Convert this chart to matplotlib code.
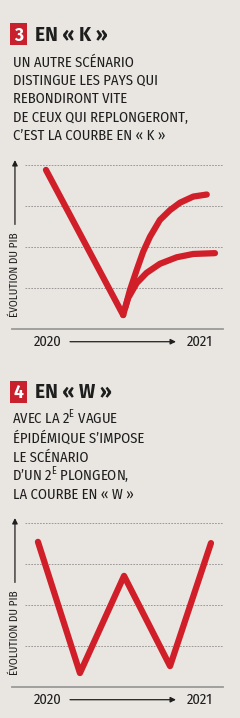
import matplotlib
matplotlib.use('Agg')
import matplotlib.pyplot as plt
from matplotlib.patches import Rectangle

# Pixel-based layout on a 240x718 canvas
W_PX, H_PX = 240, 718
BG = '#e9e6e1'
RED = '#d11f2a'
BADGE = '#c8202d'
INK = '#1e1e1e'
GRID = '#8c8c8c'

FONT = ['Fira Sans Condensed', 'Roboto Condensed', 'DejaVu Sans']
TITLE_FONT = ['Fira Sans', 'Roboto', 'DejaVu Sans']
plt.rcParams['font.family'] = FONT
plt.rcParams['mathtext.fontset'] = 'custom'
plt.rcParams['mathtext.rm'] = 'Fira Sans Condensed'

# ---- data (x: 0-100 across the axis, y: grid levels, baseline = 0) ----
grid_levels = [1, 2, 3, 4]
year_labels = ['2020', '2021']
axis_label = 'ÉVOLUTION DU PIB'

# panel 3: K
k_title = 'EN « K »'
k_text = ['UN AUTRE SCÉNARIO', 'DISTINGUE LES PAYS QUI', 'REBONDIRONT VITE',
          'DE CEUX QUI REPLONGERONT,', 'C\u2019EST LA COURBE EN « K »']
k_down_x = [16.1, 52.7]
k_down_y = [3.88, 0.34]
k_up_x = [52.7, 55.9, 59.1, 62.2, 65.4, 70.1, 74.9, 79.6, 85.9, 92.3]
k_up_y = [0.34, 0.95, 1.44, 1.89, 2.25, 2.66, 2.90, 3.08, 3.23, 3.28]
k_low_x = [53.6, 55.1, 59.1, 63.8, 70.1, 78.1, 85.9, 96.2]
k_low_y = [0.51, 0.76, 1.12, 1.37, 1.59, 1.75, 1.83, 1.85]

# panel 4: W
w_title = 'EN « W »'
w_text = ['AVEC LA 2$^{\\mathrm{E}}$ VAGUE', 'ÉPIDÉMIQUE S\u2019IMPOSE', 'LE SCÉNARIO',
          'D\u2019UN 2$^{\\mathrm{E}}$ PLONGEON,', 'LA COURBE EN « W »']
w_x = [12.3, 32.2, 53.1, 74.9, 94.3]
w_y = [3.54, 0.34, 2.71, 0.51, 3.51]

fig = plt.figure(figsize=(W_PX / 100, H_PX / 100), dpi=100)
fig.patch.set_facecolor(BG)


def fx(px):
    return px / W_PX


def fy(py):
    return 1 - py / H_PX


def header(num, title, lines, badge_top, title_base, line_bases):
    fig.patches.append(Rectangle((fx(10), fy(badge_top + 22)), fx(17), 22 / H_PX,
                                 transform=fig.transFigure, facecolor=BADGE,
                                 edgecolor='none'))
    fig.text(fx(18.5), fy(title_base), num, color='white', fontsize=12.5,
             fontweight='bold', ha='center', va='baseline', family=TITLE_FONT)
    fig.text(fx(35), fy(title_base), title, color=INK, fontsize=13.8,
             fontweight='bold', ha='left', va='baseline', family=TITLE_FONT)
    for line, base in zip(lines, line_bases):
        x = 12 if '$' in line else 13
        fig.text(fx(x), fy(base), line, color=INK, fontsize=10.5,
                 ha='left', va='baseline')


def panel(base_px, series):
    # axes spanning x 12-223 px, baseline at base_px, 41 px per grid level
    top_px = base_px - 4.12 * 41
    ax = fig.add_axes([fx(12), fy(base_px), fx(211), (base_px - top_px) / H_PX])
    ax.set_xlim(0, 100)
    ax.set_ylim(0, 4.12)
    ax.axis('off')
    x0 = (25 - 12) / 211 * 100
    for lv in grid_levels:
        ax.plot([x0, 100], [lv, lv], color=GRID, lw=0.6, dashes=(2, 1.5))
    ax.plot([0, 100], [0, 0], color='#9a9a9a', lw=1.3, clip_on=False)

    ax_x = 1.4
    ax.annotate('', xy=(ax_x, 4.12), xytext=(ax_x, 2.55),
                arrowprops=dict(arrowstyle='-|>', lw=0.9, color=INK,
                                mutation_scale=8, shrinkA=0, shrinkB=0),
                annotation_clip=False)
    ax.text(ax_x, 1.32, axis_label, rotation=90, fontsize=8, color=INK,
            ha='center', va='center', clip_on=False)

    yr = -0.31
    ax.text(17.1, yr, year_labels[0], fontsize=10.5, color=INK,
            ha='center', va='center', clip_on=False)
    ax.text(89.1, yr, year_labels[1], fontsize=10.5, color=INK,
            ha='center', va='center', clip_on=False)
    ax.annotate('', xy=(77.7, yr), xytext=(27.5, yr),
                arrowprops=dict(arrowstyle='-|>', lw=0.9, color=INK,
                                mutation_scale=8, shrinkA=0, shrinkB=0),
                annotation_clip=False)

    for xs, ys in series:
        ax.plot(xs, ys, color=RED, lw=4.5, solid_capstyle='round',
                solid_joinstyle='round', clip_on=False)
    return ax


header('3', k_title, k_text, 23, 40.7, [66.7, 85, 103.3, 121.7, 140])
panel(329, [(k_down_x, k_down_y), (k_up_x, k_up_y), (k_low_x, k_low_y)])

header('4', w_title, w_text, 381, 398, [424, 443, 462, 481, 499])
panel(687, [(w_x, w_y)])

fig.savefig('out.png', dpi=100, facecolor=BG)
